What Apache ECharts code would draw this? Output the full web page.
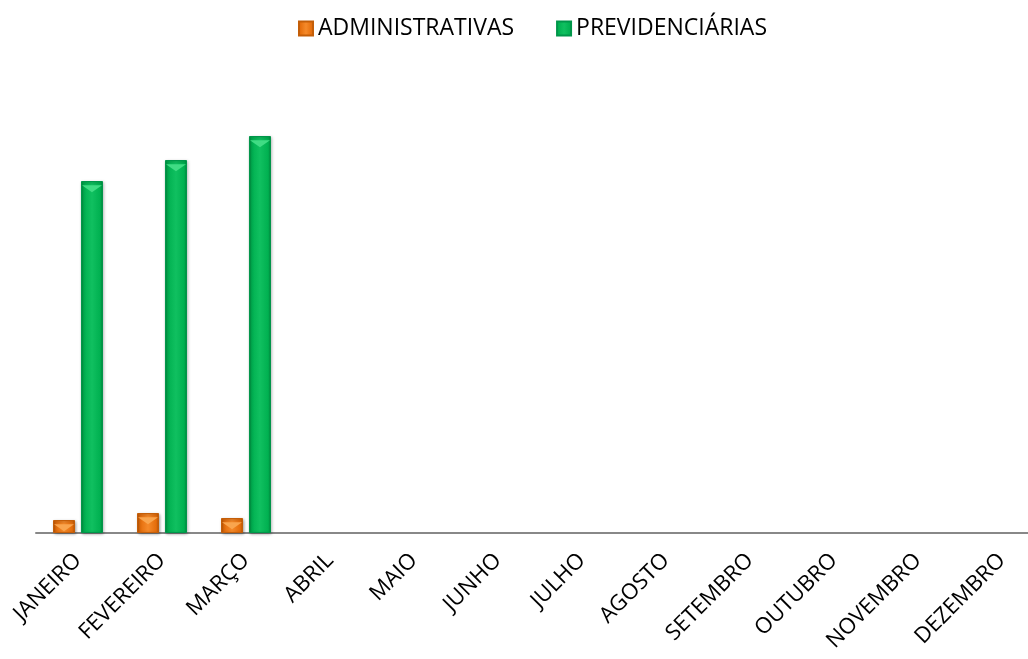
<!DOCTYPE html>
<html>
<head>
<meta charset="utf-8">
<script src="https://cdn.jsdelivr.net/npm/echarts@6/dist/echarts.min.js"></script>
<style>
html,body{margin:0;padding:0;background:#fff;}
#chart{width:1028px;height:659px;}
</style>
</head>
<body>
<div id="chart"></div>
<script>
const categories = ['JANEIRO','FEVEREIRO','MARÇO','ABRIL','MAIO','JUNHO','JULHO','AGOSTO','SETEMBRO','OUTUBRO','NOVEMBRO','DEZEMBRO'];
const administrativas = [13, 20, 15, null, null, null, null, null, null, null, null, null];
const previdenciarias = [352, 373, 397, null, null, null, null, null, null, null, null, null];
const seriesNames = ['ADMINISTRATIVAS', 'PREVIDENCIÁRIAS'];

function bevel(dark, mid, light) {
  return new echarts.graphic.LinearGradient(0, 0, 1, 0, [
    {offset: 0, color: dark},
    {offset: 0.12, color: mid},
    {offset: 0.5, color: light},
    {offset: 0.88, color: mid},
    {offset: 1, color: dark}
  ]);
}

const triPath = 'path://M0,0 L22,0 L11,8 Z';

const chart = echarts.init(document.getElementById('chart'));
chart.setOption({
  animation: false,
  textStyle: {fontFamily: 'Open Sans'},
  legend: {
    top: 12,
    left: 293,
    itemWidth: 14,
    itemHeight: 14,
    itemGap: 42,
    icon: 'rect',
    textStyle: {fontSize: 23, color: '#000', fontFamily: 'Open Sans'},
    data: seriesNames
  },
  grid: {left: 36, right: -16, top: 83, height: 450, containLabel: false, outerBoundsMode: 'none'},
  xAxis: {
    type: 'category',
    data: categories,
    axisLine: {lineStyle: {color: '#888', width: 2}},
    axisTick: {show: false},
    axisLabel: {rotate: 45, interval: 0, fontSize: 22, color: '#000', margin: 24, fontFamily: 'Open Sans'}
  },
  yAxis: {
    type: 'value', min: 0, max: 450,
    show: false,
    splitLine: {show: false}
  },
  series: [
    {
      name: seriesNames[0], type: 'bar', data: administrativas,
      barWidth: 22, barGap: '27%',
      itemStyle: {
        color: bevel('#B8560A', '#E46C0A', '#F58A2A'),
        borderColor: '#C45E08', borderWidth: 1,
        shadowBlur: 3, shadowColor: 'rgba(0,0,0,0.35)', shadowOffsetX: 1, shadowOffsetY: 1
      }
    },
    {
      name: seriesNames[1], type: 'bar', data: previdenciarias,
      barWidth: 22, barGap: '27%',
      itemStyle: {
        color: bevel('#008A3E', '#00B050', '#10C060'),
        borderColor: '#00964A', borderWidth: 1,
        shadowBlur: 3, shadowColor: 'rgba(0,0,0,0.35)', shadowOffsetX: 1, shadowOffsetY: 1
      }
    },
    {
      name: 'adm-top', type: 'pictorialBar', data: administrativas,
      symbol: triPath, symbolSize: [20, 7], symbolPosition: 'end', symbolOffset: [0, '60%'],
      barWidth: 22, barGap: '27%', z: 5, silent: true,
      itemStyle: {color: '#F9A54E'}
    },
    {
      name: 'prev-top', type: 'pictorialBar', data: previdenciarias,
      symbol: triPath, symbolSize: [20, 7], symbolPosition: 'end', symbolOffset: [0, '60%'],
      barWidth: 22, barGap: '27%', z: 5, silent: true,
      itemStyle: {color: '#40DC84'}
    }
  ]
});
</script>
</body>
</html>
